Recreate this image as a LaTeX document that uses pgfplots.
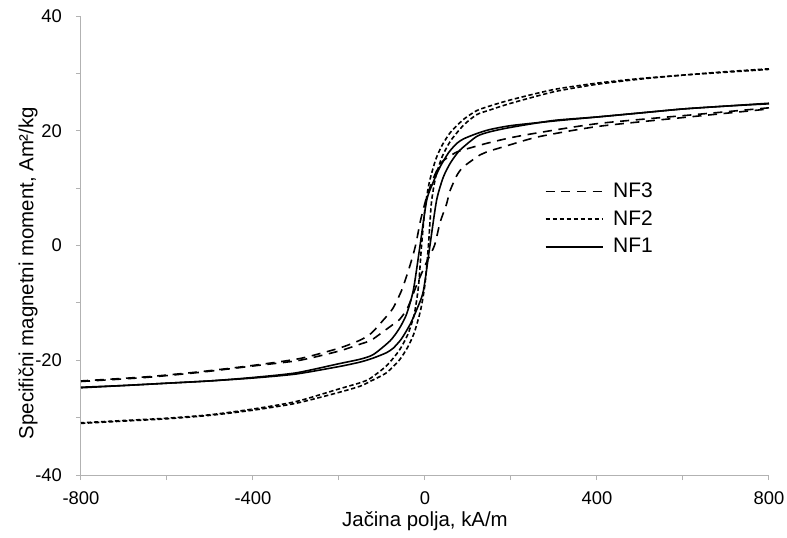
\documentclass[border=0pt]{standalone}
\usepackage{fontspec}
\setmainfont{Liberation Sans}
\usepackage{pgfplots}
\pgfplotsset{compat=1.18}
\begin{document}
\begin{tikzpicture}
\useasboundingbox (-40.5pt,-31pt) rectangle (353pt,237.5pt);
\begin{axis}[
 scale only axis, width=344pt, height=229.5pt,
 xmin=-800, xmax=800, ymin=-40, ymax=40,
 axis x line=bottom, axis y line=left,
 axis line style={draw=black!30, -, line width=0.5pt},
 xtick={-800,-400,0,400,800}, ytick={-40,-20,0,20,40},
 minor xtick={-600,-200,200,600}, minor ytick={-30,-10,10,30},
 tick align=outside, major tick length=2.5pt, minor tick length=2.5pt,
 every tick/.style={black!30, line width=0.5pt},
 every minor tick/.style={black!30, line width=0.5pt},
 ticklabel style={font=\fontsize{9.2}{11}\selectfont},
 xticklabel style={yshift=-2.5pt},
 yticklabel style={xshift=-3.5pt},
 /pgf/number format/assume math mode=true,
 xlabel={Jačina polja, kA/m},
 ylabel={Specifični magnetni moment, Am²/kg},
 label style={font=\fontsize{10.2}{12}\selectfont},
 xlabel style={at={(axis description cs:0.5,0)}, anchor=center, yshift=-23pt},
 ylabel style={at={(axis description cs:-0.077,0.44)}, anchor=center, rotate=0},
 legend style={at={(axis description cs:0.665,0.655)}, anchor=north west, draw=none, fill=none,
   font=\fontsize{10.5}{12}\selectfont, row sep=1pt},
 legend cell align=left,
 legend image code/.code={\draw[#1] (0cm,0cm) -- (1.0cm,0cm); \path (1.1cm,0cm);},
 clip=false,
]
% NF3 dashed
\addplot[black, line width=0.8pt, dash pattern=on 4.5pt off 3.3pt, smooth, tension=0.4] coordinates {
(800,24.0)(640,22.9)(407,21.3)(267,19.7)(200,18.8)(143,17.8)(100,16.9)(74,16.3)(50,15.2)(35,14.2)(20,11.8)(4,8.5)(-10,4.5)(-22,0)(-35,-3.5)(-54,-7.75)(-75,-11)(-97,-13)(-125,-15.3)(-151,-16.5)(-200,-17.9)(-291,-19.7)(-400,-20.9)(-523,-22.0)(-650,-22.9)(-800,-23.6)};
\addlegendentry{NF3}
% NF2 short dashed
\addplot[black, line width=0.8pt, dash pattern=on 2.2pt off 1.3pt, smooth, tension=0.4] coordinates {
(800,30.8)(700,30.3)(600,29.7)(500,29.1)(400,28.3)(300,27.2)(200,25.4)(150,24.3)(120,23.5)(90,22.0)(60,19.8)(40,17.5)(25,15.0)(10,11.0)(0,6.5)(-8,0)(-15,-7.0)(-25,-12.0)(-40,-15.5)(-60,-18.3)(-90,-21.0)(-128,-23.2)(-150,-23.9)(-200,-25.0)(-300,-27.2)(-400,-28.5)(-500,-29.5)(-600,-30.1)(-700,-30.5)(-800,-30.9)};
\addlegendentry{NF2}
% NF1 solid
\addplot[black, line width=0.8pt, smooth, tension=0.4] coordinates {
(800,24.8)(700,24.3)(600,23.8)(500,23.1)(400,22.4)(300,21.7)(200,20.9)(150,20.2)(120,19.5)(90,18.6)(74,17.8)(55,16.2)(35,13.7)(20,11.2)(4,7.9)(-11.5,0)(-27,-7.75)(-43,-12.0)(-60,-14.5)(-81,-16.6)(-120,-19.0)(-150,-19.8)(-200,-20.6)(-300,-22.2)(-400,-23.0)(-500,-23.6)(-600,-24.0)(-700,-24.4)(-800,-24.7)};
\addlegendentry{NF1}
% ascending branches
\addplot[black, line width=0.8pt, dash pattern=on 4.5pt off 3.3pt, smooth, tension=0.4, forget plot] coordinates {
(-800,-23.7)(-650,-23.0)(-523,-22.1)(-400,-21.0)(-291,-20.0)(-200,-18.4)(-151,-17.2)(-125,-16.5)(-97,-15.0)(-75,-13.8)(-58,-12.8)(-40,-10.8)(-20,-7)(0,-3.5)(22,0)(35,4.0)(50,7.2)(58,9.5)(74,12.2)(89,13.7)(128,15.8)(143,16.3)(200,17.6)(267,19.0)(407,20.8)(640,22.6)(800,23.8)};
\addplot[black, line width=0.8pt, dash pattern=on 2.2pt off 1.3pt, smooth, tension=0.4, forget plot] coordinates {
(-800,-31.0)(-700,-30.6)(-600,-30.2)(-500,-29.6)(-400,-28.7)(-300,-27.5)(-200,-25.6)(-150,-24.5)(-128,-23.7)(-90,-22.2)(-60,-20.0)(-40,-17.7)(-25,-15.2)(-10,-11.2)(0,-6.7)(8,0)(15,7.5)(25,12.0)(40,15.5)(60,18.3)(90,21.0)(120,22.8)(150,23.6)(200,24.8)(300,26.8)(400,28.1)(500,29.0)(600,29.7)(700,30.2)(800,30.7)};
\addplot[black, line width=0.8pt, smooth, tension=0.4, forget plot] coordinates {
(-800,-24.8)(-700,-24.4)(-600,-24.0)(-500,-23.6)(-400,-23.1)(-300,-22.4)(-200,-21.1)(-150,-20.3)(-120,-19.6)(-90,-18.7)(-74,-17.9)(-55,-16.3)(-35,-13.8)(-20,-11.3)(-4,-8)(11.5,0)(27,7.9)(43,12.0)(60,14.5)(81,16.6)(120,19.0)(150,19.8)(200,20.6)(300,21.8)(400,22.4)(500,23.1)(600,23.8)(700,24.3)(800,24.7)};
\end{axis}
\end{tikzpicture}
\end{document}
